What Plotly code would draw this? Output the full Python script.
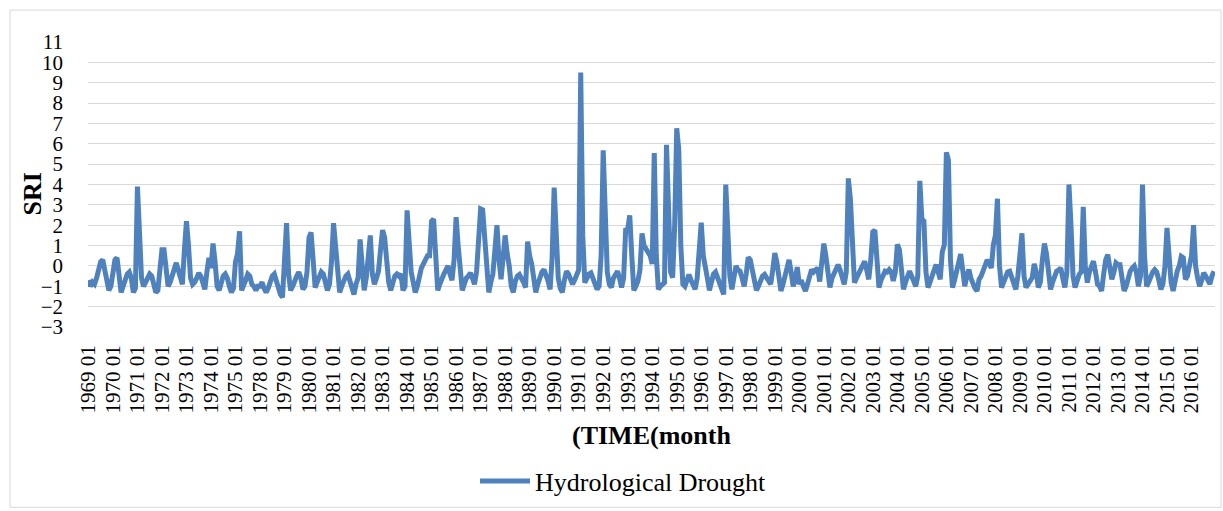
import plotly.graph_objects as go

# ---- data (SRI monthly values) ----
years = [1969, 1970, 1971, 1972, 1973, 1974, 1975,
         1978, 1979, 1980, 1981, 1982, 1983, 1984, 1985, 1986, 1987, 1988, 1989,
         1990, 1991, 1992, 1993, 1994, 1995, 1996, 1997, 1998, 1999, 2000,
         2001, 2002, 2003, 2004, 2005, 2006, 2007, 2008, 2009, 2010,
         2011, 2012, 2013, 2014, 2015, 2016]
months = ["01", "02", "03", "04", "05", "06", "07", "08", "09", "10", "11", "12"]

sri_1969 = [-0.7, -1.0, -0.8, -0.9, -0.6, -0.1, 0.2, 0.3, -0.3, -0.9, -1.2, -1.0]
sri_1970 = [-0.5, 0.3, 0.4, -0.6, -1.3, -1.0, -0.7, -0.4, -0.3, -0.6, -1.3, -1.1]
sri_1971 = [3.9, 1.0, -0.6, -1.0, -0.8, -0.5, -0.4, -0.5, -0.9, -1.3, -1.2, -0.2]
sri_1972 = [0.8, 0.8, -0.2, -1.0, -0.8, -0.5, -0.2, 0.15, -0.2, -0.6, -0.9, 0.8]
sri_1973 = [2.2, 1.0, -0.6, -0.9, -0.8, -0.6, -0.35, -0.5, -0.9, -1.15, -0.3, 0.4]
sri_1974 = [-0.1, 1.1, 0.2, -1.0, -1.2, -0.8, -0.5, -0.4, -0.6, -1.0, -1.3, -1.1]
sri_1975 = [0.2, 0.6, 1.7, -1.2, -1.0, -0.7, -0.4, -0.5, -0.9, -1.0, -1.2, -1.0]
sri_1978 = [-1.0, -0.8, -1.1, -1.3, -1.1, -0.8, -0.5, -0.4, -0.8, -1.2, -1.4, -1.55]
sri_1979 = [0.5, 2.1, -0.4, -1.2, -1.0, -0.7, -0.5, -0.3, -0.6, -1.15, -1.0, -0.3]
sri_1980 = [1.4, 1.65, -0.2, -1.06, -0.8, -0.5, -0.3, -0.4, -0.8, -1.2, -0.9, 0.2]
sri_1981 = [2.1, 0.8, -0.6, -1.3, -1.0, -0.7, -0.5, -0.4, -0.8, -1.2, -1.4, -0.9]
sri_1982 = [-0.6, 1.3, 0.3, -1.2, -0.6, 0.6, 1.5, -0.4, -0.9, -0.6, -0.26, 0.8]
sri_1983 = [1.76, 1.4, 0.0, -0.8, -1.2, -0.8, -0.5, -0.4, -0.5, -0.4, -1.2, -1.0]
sri_1984 = [2.73, 1.2, -0.3, -0.8, -1.3, -1.0, -0.4, -0.1, 0.1, 0.3, 0.5, 0.5]
sri_1985 = [2.2, 2.3, 0.3, -1.2, -0.9, -0.6, -0.4, -0.2, 0.0, -0.4, -0.7, 0.3]
sri_1986 = [2.4, 1.0, -0.5, -1.2, -0.9, -0.6, -0.5, -0.34, -0.6, -0.9, -0.3, 1.0]
sri_1987 = [2.8, 2.75, 1.3, -0.2, -1.3, -0.8, -0.4, 0.8, 2.0, 0.3, -0.66, 0.4]
sri_1988 = [1.5, 0.6, 0.0, -1.0, -1.3, -0.74, -0.5, -0.42, -0.58, -0.8, -1.06, 1.2]
sri_1989 = [0.5, 0.1, -0.6, -1.3, -0.9, -0.5, -0.3, -0.18, -0.4, -0.74, -1.15, 0.4]
sri_1990 = [3.85, 1.0, -0.6, -1.1, -1.3, -0.7, -0.26, -0.4, -0.6, -0.9, -0.7, -0.42]
sri_1991 = [-0.2, 9.5, 1.5, -0.82, -0.6, -0.4, -0.34, -0.6, -0.9, -1.15, -1.0, 0.5]
sri_1992 = [5.68, 2.0, -0.3, -0.9, -1.06, -0.6, -0.4, -0.26, -0.6, -1.06, -0.6, 1.76]
sri_1993 = [1.8, 2.48, 0.5, -1.2, -1.0, -0.74, -0.2, 1.6, 1.0, 0.8, 0.7, 0.5]
sri_1994 = [0.1, 5.55, 0.5, -1.15, -1.0, -0.9, -0.82, 5.95, 2.0, -0.3, -0.58, 2.0]
sri_1995 = [6.76, 5.7, 1.0, -0.9, -1.0, -0.7, -0.42, -0.7, -1.0, -1.15, -0.6, 0.5]
sri_1996 = [2.13, 0.5, 0.06, -0.6, -1.2, -0.8, -0.4, -0.3, -0.6, -0.82, -1.2, -1.4]
sri_1997 = [4.0, 1.2, -0.5, -1.15, -0.6, 0.0, -0.2, -0.26, -0.6, -1.0, -0.4, 0.42]
sri_1998 = [0.3, -0.3, -0.8, -1.2, -1.0, -0.7, -0.5, -0.42, -0.6, -0.8, -0.9, -0.2]
sri_1999 = [0.63, 0.2, -0.6, -1.23, -0.9, -0.4, 0.0, 0.3, -0.3, -1.0, -0.7, -0.06]
sri_2000 = [-0.9, -0.7, -1.0, -1.23, -0.9, -0.5, -0.18, -0.3, -0.2, -0.1, -0.77, 0.0]
sri_2001 = [1.1, 0.5, -0.3, -1.06, -0.6, -0.4, -0.2, 0.06, -0.2, -0.7, -0.9, -0.3]
sri_2002 = [4.3, 3.3, 0.5, -0.82, -0.6, -0.4, -0.26, -0.1, 0.23, -0.2, -0.66, 0.3]
sri_2003 = [1.68, 1.76, 0.3, -1.06, -0.7, -0.4, -0.26, -0.3, -0.18, -0.3, -0.74, -0.3]
sri_2004 = [1.06, 0.8, -0.4, -1.15, -0.8, -0.5, -0.26, -0.5, -0.8, -1.0, -0.5, 4.18]
sri_2005 = [2.3, 2.2, -0.3, -1.06, -0.8, -0.42, -0.2, 0.06, -0.3, -0.66, 0.7, 1.03]
sri_2006 = [5.58, 5.2, 0.3, -1.06, -0.7, -0.34, 0.1, 0.58, -0.2, -1.0, -0.5, -0.18]
sri_2007 = [-0.6, -0.9, -1.1, -1.23, -0.66, -0.5, -0.26, 0.0, 0.3, 0.1, -0.1, 1.03]
sri_2008 = [1.5, 3.3, 0.0, -1.06, -0.8, -0.5, -0.3, -0.26, -0.6, -1.0, -1.15, -0.5]
sri_2009 = [0.6, 1.6, -0.5, -1.06, -0.9, -0.7, -0.58, 0.1, -0.3, -1.06, -0.8, 0.3]
sri_2010 = [1.1, 0.6, -0.5, -1.15, -0.8, -0.5, -0.26, -0.2, -0.1, -0.6, -1.06, -0.3]
sri_2011 = [4.0, 2.0, -0.5, -1.06, -0.7, -0.42, -0.3, 2.9, 0.0, -0.82, -0.3, 0.0]
sri_2012 = [0.23, -0.3, -0.9, -1.0, -1.23, -0.4, 0.3, 0.55, 0.0, -0.66, -0.3, 0.15]
sri_2013 = [0.06, 0.06, -0.6, -1.23, -1.0, -0.6, -0.26, -0.1, 0.0, -0.3, -1.0, -0.5]
sri_2014 = [4.0, 0.5, -1.0, -0.8, -0.5, -0.3, -0.18, -0.3, -0.7, -1.15, -0.9, 0.0]
sri_2015 = [1.87, 0.5, -0.8, -1.23, -0.6, -0.26, 0.0, 0.47, 0.4, -0.66, -0.5, 0.0]
sri_2016 = [0.5, 2.0, 0.0, -0.6, -1.0, -0.7, -0.34, -0.5, -0.66, -0.9, -0.5, -0.26]

sri_rows = [sri_1969, sri_1970, sri_1971, sri_1972, sri_1973, sri_1974, sri_1975,
            sri_1978, sri_1979, sri_1980, sri_1981, sri_1982, sri_1983, sri_1984,
            sri_1985, sri_1986, sri_1987, sri_1988, sri_1989, sri_1990, sri_1991,
            sri_1992, sri_1993, sri_1994, sri_1995, sri_1996, sri_1997, sri_1998,
            sri_1999, sri_2000, sri_2001, sri_2002, sri_2003, sri_2004, sri_2005,
            sri_2006, sri_2007, sri_2008, sri_2009, sri_2010, sri_2011, sri_2012,
            sri_2013, sri_2014, sri_2015, sri_2016]

y_ticks = list(range(-3, 12))

categories = []
values = []
for yr, row in zip(years, sri_rows):
    for mo, v in zip(months, row):
        categories.append(f"{yr} {mo}")
        values.append(v)
tick_cats = [f"{yr} 01" for yr in years]

# ---- layout geometry (pixels) ----
W, H = 1223, 511
L, R, T, B = 88, 8, 42, 183
pw, ph = W - L - R, H - T - B


def px_x(x):
    return (x - L) / pw


def px_y(y):
    return (H - B - y) / ph


SERIF = "Liberation Serif, Times New Roman, serif"

fig = go.Figure()
fig.add_trace(go.Scatter(
    x=categories, y=values, mode="lines", name="Hydrological Drought",
    line=dict(color="#4F81BD", width=5),
))

fig.update_layout(
    width=W, height=H,
    margin=dict(l=L, r=R, t=T, b=B, pad=0),
    paper_bgcolor="white", plot_bgcolor="white",
    font=dict(family=SERIF, color="black"),
    showlegend=True,
    legend=dict(orientation="h", x=px_x(475), xanchor="left",
                y=px_y(481), yanchor="middle", itemwidth=50,
                font=dict(family=SERIF, size=26, color="black"),
                bgcolor="rgba(0,0,0,0)"),
    xaxis=dict(type="category", tickmode="array", tickvals=tick_cats, ticktext=tick_cats,
               tickangle=-90, tickfont=dict(family=SERIF, size=21, color="black"),
               showgrid=False, zeroline=False, showline=False, ticks="",
               range=[-0.2, len(categories) - 0.5], ticklabelstandoff=13),
    yaxis=dict(range=[-3, 11], tickmode="array", tickvals=y_ticks,
               tickfont=dict(family=SERIF, size=21, color="black"),
               showgrid=True, gridcolor="#D9D9D9", gridwidth=1,
               zeroline=False, showline=False, ticks="", ticklabelstandoff=24),
    shapes=[dict(type="rect", xref="paper", yref="paper",
                 x0=px_x(10), x1=px_x(1221), y0=px_y(509), y1=px_y(10),
                 line=dict(color="#D9D9D9", width=1), layer="below")],
    annotations=[
        dict(text="<b>SRI</b>", xref="paper", yref="paper", x=px_x(32), y=px_y(195),
             showarrow=False, textangle=-90, font=dict(family=SERIF, size=26, color="black"),
             xanchor="center", yanchor="middle"),
        dict(text="<b>(TIME(month</b>", xref="paper", yref="paper", x=0.5, y=px_y(437),
             showarrow=False, font=dict(family=SERIF, size=26, color="black"),
             xanchor="center", yanchor="middle"),
    ],
)

fig.write_html("out.html")
